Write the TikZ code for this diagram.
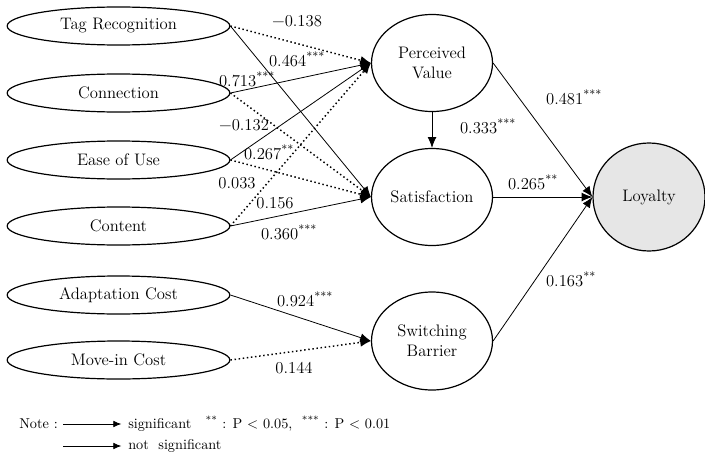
\documentclass[tikz,border=0pt]{standalone}
\usepackage{fontspec}
\usetikzlibrary{shapes.geometric,arrows.meta}
\definecolor{loyfill}{RGB}{230,230,230}
\tikzset{
	factor/.style={ellipse,draw,line width=0.9pt,inner sep=0pt,minimum width=167pt,minimum height=28.5pt},
	construct/.style={ellipse,draw,line width=0.9pt,inner sep=0pt,minimum width=90.75pt,minimum height=72.75pt,align=center},
	sig/.style={-{Latex[length=8pt,width=6.5pt]},line width=0.6pt},
	nsig/.style={-{Latex[length=8pt,width=6.5pt]},line width=1.1pt,dash pattern=on 1.1pt off 2pt},
	coef/.style={inner sep=0pt}
}
\begin{document}
\begin{tikzpicture}[x=0.75pt,y=-0.75pt,font=\fontsize{12.5}{15}\selectfont]
	\useasboundingbox (0,0) rectangle (705,460);
	\begin{scope}
	\node[factor] (tag) at (118.5,26) {Tag Recognition};
	\node[factor] (conn) at (118.5,93) {Connection};
	\node[factor] (ease) at (118.5,160) {Ease of Use};
	\node[factor] (cont) at (118.5,226) {Content};
	\node[factor] (adapt) at (118.5,295) {Adaptation Cost};
	\node[factor] (move) at (118.5,360) {Move-in Cost};
	\node[construct] (pv) at (432,63) {Perceived\\Value};
	\node[construct] (sat) at (432,197) {Satisfaction};
	\node[construct,minimum height=73.5pt] (sb) at (432,341) {Switching\\Barrier};
	\node[construct,fill=loyfill,minimum width=84pt,minimum height=81pt] (loy) at (649,197) {Loyalty};
	\end{scope}
	\begin{scope}
		\draw[nsig] (tag.east) -- (pv.west);
		\draw[sig] (tag.east) -- (sat.west);
		\draw[sig] (conn.east) -- (pv.west);
		\draw[nsig] (conn.east) -- (sat.west);
		\draw[sig] (ease.east) -- (pv.west);
		\draw[nsig] (ease.east) -- (sat.west);
		\draw[nsig] (cont.east) -- (pv.west);
		\draw[sig] (cont.east) -- (sat.west);
		\draw[sig] (pv.south) -- (sat.north);
		\draw[sig] (pv.east) -- (loy.west);
		\draw[sig] (sat.east) -- (loy.west);
		\draw[sig] (sb.east) -- (loy.west);
		\draw[sig] (adapt.east) -- (sb.west);
		\draw[nsig] (move.east) -- (sb.west);
	\end{scope}
	% path coefficients
	\begin{scope}[every node/.style={coef}]
	\node (c1) at (297,21) {−0.138};
	\node (c2) at (297,59) {0.464\textsuperscript{***}};
	\node (c3) at (247,79) {0.713\textsuperscript{***}};
	\node (c4) at (244,125) {−0.132};
	\node (c5) at (269,152) {0.267\textsuperscript{**}};
	\node (c6) at (237,183) {0.033};
	\node (c7) at (275,203) {0.156};
	\node (c8) at (289,232) {0.360\textsuperscript{***}};
	\node (c9) at (574,97) {0.481\textsuperscript{***}};
	\node (c10) at (488,126) {0.333\textsuperscript{***}};
	\node (c11) at (533,182) {0.265\textsuperscript{**}};
	\node (c12) at (571,279) {0.163\textsuperscript{**}};
	\node (c13) at (305,299) {0.924\textsuperscript{***}};
	\node (c14) at (294,368) {0.144};
	\end{scope}
	% note
	\begin{scope}[font=\fontsize{10.7}{13}\selectfont]
	\node[anchor=east,inner sep=0pt] (note) at (58,424) {Note :};
	\coordinate (n1) at (63,424);
	\coordinate (n2) at (63,446);
	\node[anchor=west,inner sep=0pt] (lsig) at (128,424) {significant\quad\textsuperscript{**} : P < 0.05,\ \ \textsuperscript{***} : P < 0.01};
	\node[anchor=west,inner sep=0pt] (lnsig) at (128,446) {not\ \ significant};
	\draw[-{Latex[length=6pt,width=5pt]},line width=0.6pt,shorten >=5pt] (n1) -- (lsig.west);
	\draw[-{Latex[length=6pt,width=5pt]},line width=0.6pt,shorten >=5pt] (n2) -- (lnsig.west);
	\end{scope}
\end{tikzpicture}
\end{document}
